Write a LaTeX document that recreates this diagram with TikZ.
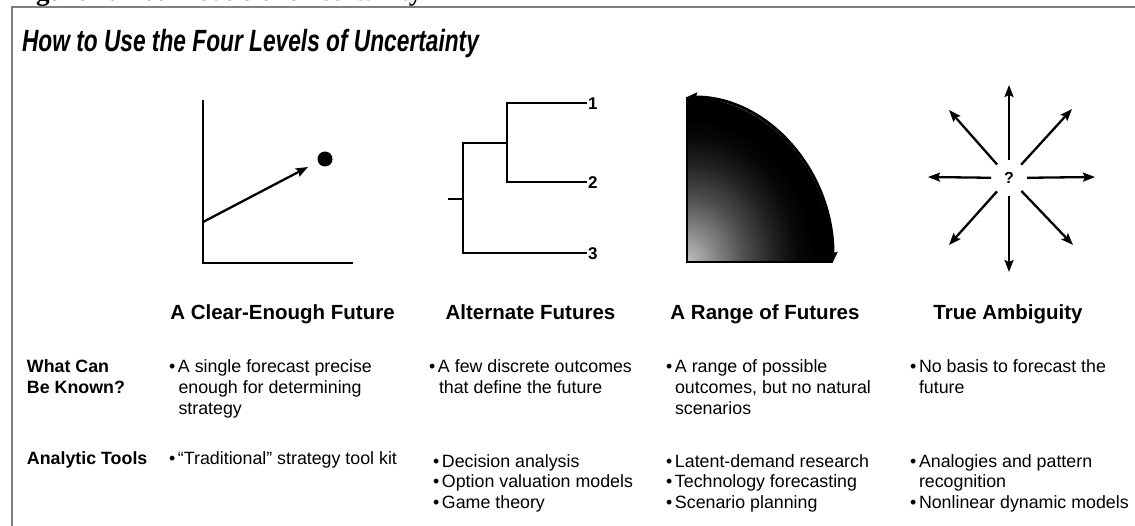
\documentclass[tikz,border=0pt]{standalone}
\usepackage{fontspec}
\usepackage{graphicx}
\setmainfont{Liberation Sans}
\newfontfamily\captionserif{Liberation Serif}
\usetikzlibrary{arrows.meta}

% light corner fading quickly to black towards the rim of the quarter disc
\pgfdeclareradialshading{quarterglow}{\pgfpoint{0bp}{0bp}}{%
  color(0bp)=(black!24); color(5bp)=(black!48); color(10bp)=(black!70);
  color(15bp)=(black!87); color(19bp)=(black!97); color(22bp)=(black); color(50bp)=(black)}

\newcommand{\itemdot}{\makebox[9pt][l]{•}}

\begin{document}
\begin{tikzpicture}[x=1pt,y=-1pt,
  every node/.style={inner sep=0pt, outer sep=0pt},
  bodytext/.style={anchor=base west, font=\fontsize{17.8}{20.5}\selectfont},
  rowlabel/.style={anchor=base west, font=\fontsize{17.8}{20.5}\selectfont\bfseries},
  colhead/.style={anchor=base, font=\fontsize{20.5}{24}\selectfont\bfseries},
  heavyline/.style={line width=2.9pt},
  ray/.style={line width=2.3pt, -{Stealth[length=12pt,width=9pt,inset=2pt]}},
  frameline/.style={draw=black!50, line width=2pt},
  branchnum/.style={anchor=west, font=\fontsize{17}{17}\selectfont\bfseries},
]
\useasboundingbox (0,0) rectangle (1135,526);

% caption line above the frame (only its lower edge is inside the page)
\begin{scope}
  \clip (0,0) rectangle (1135,6);
  \node[anchor=base west, font=\captionserif\bfseries\fontsize{27}{30}\selectfont]
    (caption) at (12,0.5) {Figure 4: Four levels of uncertainty};
\end{scope}

% frame
\draw[frameline] (12,526) -- (12,7) -- (1135,7);

% title
\node[anchor=base west, font=\fontsize{30.7}{34}\selectfont\bfseries\itshape]
  (title) at (22,52) {\scalebox{0.74}[1]{How to Use the Four Levels of Uncertainty}};

% ---- level 1: clear-enough future
\coordinate (axtop) at (203,100);
\coordinate (axorigin) at (203,263);
\coordinate (axright) at (353,263);
\coordinate (trendstart) at (203,222);
\coordinate (trendend) at (308,167);
\draw[heavyline] (axtop) -- (axorigin) -- (axright);
\draw[ray] (trendstart) -- (trendend);
\node[circle, fill=black, minimum size=15pt] (forecast) at (325,159) {};

% ---- level 2: alternate futures (decision tree)
\coordinate (stub) at (448,199);
\coordinate (rootmid) at (463,199);
\coordinate (roottop) at (463,143);
\coordinate (rootbot) at (463,253);
\coordinate (forkmid) at (507,143);
\coordinate (forktop) at (507,103);
\coordinate (forkbot) at (507,182);
\node[branchnum] (out1) at (588,104) {1};
\node[branchnum] (out2) at (588,183) {2};
\node[branchnum] (out3) at (588,254) {3};
\draw[heavyline] (stub) -- (rootmid);
\draw[heavyline] (forkmid) -- (roottop) -- (rootbot) -- ([xshift=-1pt]rootbot -| out3.west);
\draw[heavyline] ([xshift=-1pt]forktop -| out1.west) -- (forktop) -- (forkbot) -- ([xshift=-1pt]forkbot -| out2.west);

% ---- level 3: range of futures (shaded quarter disc)
\coordinate (qcorner) at (687,262);
\coordinate (qtop) at (687,97);
\coordinate (qright) at (833,262);
\begin{scope}
  \clip (qcorner) -- (qtop) .. controls (767.6,97) and (833,170.9) .. (qright) -- cycle;
  \shade[shading=quarterglow] (qcorner) ellipse [x radius=146, y radius=165];
\end{scope}
\draw[line width=1.6pt] (qtop) -- (qcorner) -- (qright);
\draw[line width=3pt, {Stealth[length=10pt,width=9pt,inset=1pt]}-{Stealth[length=10pt,width=9pt,inset=1pt]}]
  (qtop) .. controls (767.6,97) and (833,170.9) .. (qright);

% ---- level 4: true ambiguity (rays in all directions)
\node[circle, minimum size=36pt, font=\fontsize{16}{16}\selectfont\bfseries] (unknown) at (1009,178) {?};
\coordinate (rayN) at (1009,85);
\coordinate (rayS) at (1009,272);
\coordinate (rayW) at (928,177);
\coordinate (rayE) at (1095,177);
\coordinate (rayNW) at (949,110);
\coordinate (rayNE) at (1072,109);
\coordinate (raySW) at (949,245);
\coordinate (raySE) at (1073,245);
\foreach \tip in {rayN,rayS,rayW,rayE,rayNW,rayNE,raySW,raySE}
  \draw[ray] (unknown) -- (\tip);

% ---- column headings
\node[colhead] (head1) at (282.5,320) {A Clear-Enough Future};
\node[colhead] (head2) at (530.5,320) {Alternate Futures};
\node[colhead] (head3) at (765,320) {A Range of Futures};
\node[colhead] (head4) at (1008,320) {True Ambiguity};

% ---- row labels
\node[rowlabel] (known1) at (27,373) {What Can};
\node[rowlabel] (known2) at (27,393.5) {Be Known?};
\node[rowlabel] (tools) at (27,464) {Analytic Tools};

% ---- column 1
\node[bodytext] (c1a) at (169,373) {\itemdot A single forecast precise};
\node[bodytext] (c1b) at (178.5,393.5) {enough for determining};
\node[bodytext] (c1c) at (178.5,414) {strategy};
\node[bodytext] (c1d) at (169,464) {\itemdot “Traditional” strategy tool kit};

% ---- column 2
\node[bodytext] (c2a) at (429,373) {\itemdot A few discrete outcomes};
\node[bodytext] (c2b) at (439,393.5) {that define the future};
\node[bodytext] (c2c) at (433,467) {\itemdot Decision analysis};
\node[bodytext] (c2d) at (433,487.5) {\itemdot Option valuation models};
\node[bodytext] (c2e) at (433,508) {\itemdot Game theory};

% ---- column 3
\node[bodytext] (c3a) at (666,373) {\itemdot A range of possible};
\node[bodytext] (c3b) at (675,393.5) {outcomes, but no natural};
\node[bodytext] (c3c) at (675,414) {scenarios};
\node[bodytext] (c3d) at (666,467) {\itemdot Latent-demand research};
\node[bodytext] (c3e) at (666,487.5) {\itemdot Technology forecasting};
\node[bodytext] (c3f) at (666,508) {\itemdot Scenario planning};

% ---- column 4
\node[bodytext] (c4a) at (910,373) {\itemdot No basis to forecast the};
\node[bodytext] (c4b) at (919,393.5) {future};
\node[bodytext] (c4c) at (910,467) {\itemdot Analogies and pattern};
\node[bodytext] (c4d) at (919,487.5) {recognition};
\node[bodytext] (c4e) at (910,508) {\itemdot Nonlinear dynamic models};
\end{tikzpicture}
\end{document}
